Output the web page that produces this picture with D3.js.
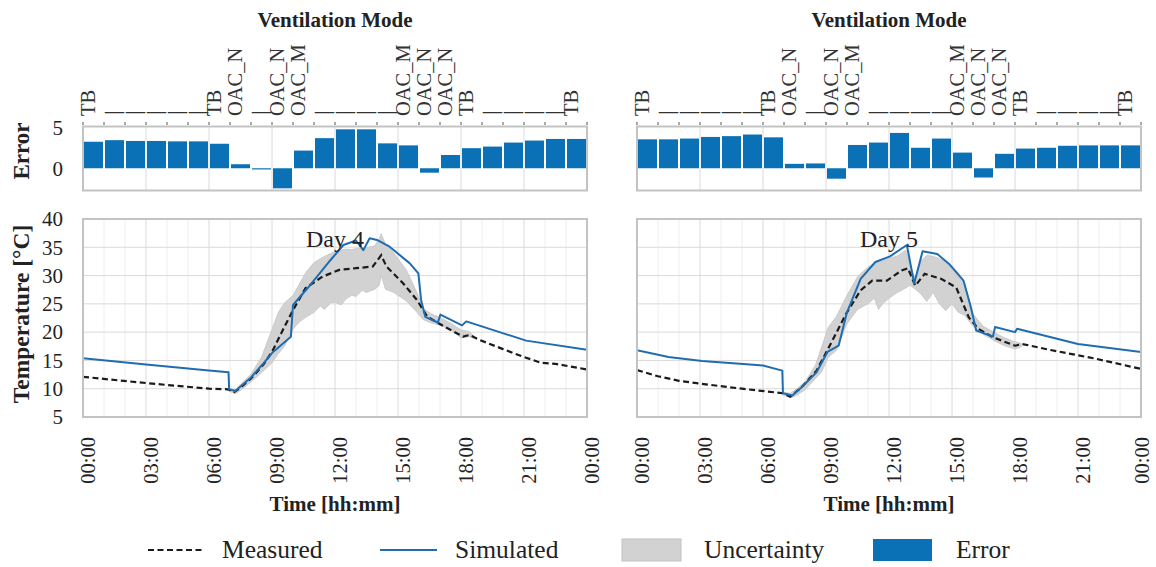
<!DOCTYPE html>
<html>
<head>
<meta charset="utf-8">
<script src="https://cdn.jsdelivr.net/npm/d3@7"></script>
<style>
  html, body { margin: 0; padding: 0; background: #fff; }
  svg { display: block; font-family: "Liberation Serif", "Times New Roman", serif; }
</style>
</head>
<body>
<svg id="chart" width="1156" height="567"></svg>
<script>
// ---------- data ----------
const hourTicks = [0, 3, 6, 9, 12, 15, 18, 21, 24];
const hourTickLabels = ["00:00", "03:00", "06:00", "09:00", "12:00", "15:00", "18:00", "21:00", "00:00"];
const tempTicks = [5, 10, 15, 20, 25, 30, 35, 40];
const errorTicks = [0, 5];
const dayLabels = ["Day 4", "Day 5"];

// ventilation mode per hour (blank = unchanged)
const modes4 = ["TB", "", "", "", "", "", "TB", "OAC_N", "", "OAC_N", "OAC_M", "", "", "", "", "OAC_M", "OAC_N", "OAC_N", "TB", "", "", "", "", "TB"];
const modes5 = ["TB", "", "", "", "", "", "TB", "OAC_N", "", "OAC_N", "OAC_M", "", "", "", "", "OAC_M", "OAC_N", "OAC_N", "TB", "", "", "", "", "TB"];

// hourly error (simulated - measured)
const error4 = [3.3, 3.5, 3.4, 3.4, 3.35, 3.35, 3.05, 0.5, -0.12, -2.5, 2.2, 3.75, 4.85, 4.85, 3.1, 2.85, -0.55, 1.65, 2.5, 2.7, 3.2, 3.45, 3.65, 3.65];
const error5 = [3.6, 3.6, 3.7, 3.9, 4.0, 4.2, 3.85, 0.55, 0.6, -1.3, 2.9, 3.2, 4.4, 2.55, 3.7, 1.95, -1.15, 1.8, 2.45, 2.55, 2.8, 2.85, 2.85, 2.85];

// Day 4 temperatures [hour, °C]
const simHours4 = [0, 3, 6, 6.93, 6.96, 7.25, 8.0, 8.6, 9.05, 9.9, 10.0, 10.7, 11.8, 12.4, 13.0, 13.35, 13.65, 14.0, 14.6, 15.55, 15.97, 16.1, 16.3, 16.9, 17.02, 18.05, 18.25, 21.1, 24];
const simTemp4  = [15.4, 14.3, 13.2, 12.9, 9.9, 9.6, 12.0, 14.5, 16.5, 19.2, 24.8, 27.8, 32.8, 35.4, 36.2, 34.5, 36.6, 36.3, 35.1, 32.2, 30.4, 25.7, 22.7, 21.7, 23.1, 21.2, 21.9, 18.5, 16.9];
const measHours4 = [0, 3, 6, 6.9, 7.2, 7.5, 8.0, 8.6, 9.0, 9.6, 10.0, 10.6, 11.4, 12.2, 13.0, 13.8, 14.2, 14.45, 15.25, 15.9, 16.4, 17.2, 18.1, 18.4, 18.9, 20.0, 21.0, 21.8, 22.5, 24];
const measTemp4  = [12.1, 11.0, 10.0, 9.9, 9.4, 10.2, 11.8, 14.3, 16.5, 21.0, 23.9, 27.8, 29.8, 31.0, 31.3, 31.6, 33.6, 31.6, 28.6, 25.7, 22.7, 21.0, 19.2, 19.5, 18.6, 17.0, 15.6, 14.6, 14.4, 13.4];
const bandHours4 = [6.8, 7.0, 7.25, 7.5, 8.0, 8.5, 9.0, 9.3, 9.6, 10.0, 10.3, 10.6, 11.0, 11.3, 11.5, 11.8, 12.0, 12.3, 12.5, 12.8, 13.0, 13.3, 13.5, 13.9, 14.1, 14.2, 14.4, 14.8, 15.4, 15.9, 16.2, 16.6, 17.0, 17.5, 18.0, 18.4, 18.6];
const bandLow4   = [9.9, 9.5, 9.1, 9.7, 11.2, 12.8, 14.6, 16.2, 17.5, 20.5, 21.8, 22.6, 23.5, 24.6, 24.0, 25.2, 25.3, 24.8, 25.8, 26.5, 26.3, 27.4, 27.0, 27.6, 28.2, 30.0, 27.6, 27.0, 25.5, 23.5, 22.2, 21.6, 21.2, 20.4, 19.0, 19.2, 18.9];
const bandHigh4  = [10.1, 9.9, 9.8, 10.8, 12.6, 15.6, 20.5, 23.5, 25.2, 26.5, 28.5, 30.5, 32.3, 33.0, 33.4, 33.9, 34.2, 34.5, 34.7, 34.6, 34.8, 34.9, 34.9, 35.3, 36.5, 37.4, 35.6, 34.0, 31.0, 27.0, 24.2, 23.2, 22.6, 21.6, 20.4, 20.1, 19.3];

// Day 5 temperatures [hour, °C]
const simHours5 = [0, 1.5, 3.1, 4.9, 6.0, 6.92, 6.95, 7.4, 7.85, 8.55, 9.07, 9.6, 10.0, 10.65, 11.35, 12.05, 12.85, 13.2, 13.6, 14.3, 14.85, 15.55, 15.9, 16.15, 16.95, 17.05, 18.0, 18.1, 21.0, 24];
const simTemp5  = [16.8, 15.6, 14.9, 14.4, 14.1, 13.2, 9.2, 8.8, 10.3, 12.9, 16.5, 17.6, 23.5, 29.4, 32.4, 33.4, 35.4, 28.6, 34.3, 33.8, 32.1, 29.1, 24.4, 20.3, 19.2, 20.9, 20.0, 20.6, 17.9, 16.5];
const measHours5 = [0, 1.0, 2.0, 3.0, 5.0, 6.95, 7.3, 7.85, 8.55, 9.15, 9.95, 10.65, 11.2, 11.9, 12.6, 12.9, 13.25, 13.7, 14.5, 15.2, 15.8, 16.25, 16.95, 18.0, 18.35, 19.75, 21.85, 24];
const measTemp5  = [13.3, 12.2, 11.4, 10.9, 10.0, 9.2, 8.6, 10.3, 13.2, 17.4, 23.2, 27.4, 29.1, 29.1, 30.9, 31.3, 28.2, 30.3, 29.4, 27.9, 22.6, 20.6, 19.1, 17.6, 17.9, 16.8, 15.3, 13.5];
const bandHours5 = [6.9, 7.3, 7.6, 8.0, 8.5, 8.8, 9.1, 9.5, 10.0, 10.5, 11.0, 11.3, 11.5, 11.7, 12.0, 12.4, 12.8, 13.0, 13.25, 13.5, 13.8, 14.1, 14.4, 14.7, 15.0, 15.3, 15.6, 16.0, 16.5, 17.0, 17.5, 18.0, 18.3];
const bandLow5   = [9.0, 8.4, 8.8, 9.8, 11.8, 13.0, 15.5, 16.8, 21.5, 24.0, 25.0, 26.0, 24.0, 25.0, 26.0, 27.0, 27.8, 28.3, 27.6, 26.8, 25.4, 27.0, 25.0, 23.8, 25.0, 23.5, 23.0, 21.0, 19.6, 18.5, 17.6, 17.0, 17.4];
const bandHigh5  = [9.4, 9.2, 10.0, 11.2, 14.2, 17.5, 20.8, 22.8, 26.5, 29.8, 31.5, 32.2, 32.4, 32.6, 33.0, 33.5, 34.5, 31.8, 29.5, 32.5, 33.6, 33.4, 33.0, 32.4, 31.6, 30.5, 28.5, 23.2, 21.0, 20.0, 19.0, 18.3, 18.0];

const legendLabels = ["Measured", "Simulated", "Uncertainty", "Error"];

// ---------- styling ----------
const C = {
  blue: "#0a71b6",
  simLine: "#1f6db0",
  band: "#d2d2d2",
  bandEdge: "#c2c2c2",
  frame: "#c3c3c3",
  gridMajor: "#dadada",
  gridMinor: "#eeeeee",
  text: "#222"
};

const svg = d3.select("#chart");
const zip = (a, b) => a.map((v, i) => [v, b[i]]);

const yErr = d3.scaleLinear().domain([-2.77, 5.2]).range([190.5, 126.5]);
const yTemp = d3.scaleLinear().domain([5, 40]).range([417, 219]);

const days = [
  { left: 83, right: 587, modes: modes4, error: error4, label: dayLabels[0],
    sim: zip(simHours4, simTemp4), meas: zip(measHours4, measTemp4),
    band: bandHours4.map((h, i) => [h, bandLow4[i], bandHigh4[i]]), yLabels: true },
  { left: 637, right: 1141, modes: modes5, error: error5, label: dayLabels[1],
    sim: zip(simHours5, simTemp5), meas: zip(measHours5, measTemp5),
    band: bandHours5.map((h, i) => [h, bandLow5[i], bandHigh5[i]]), yLabels: false }
];

days.forEach((d, di) => {
  const x = d3.scaleLinear().domain([0, 24]).range([d.left, d.right]);
  const g = svg.append("g");
  const cx = (d.left + d.right) / 2;

  // ----- error panel -----
  const [eBot, eTop] = yErr.range();
  g.append("g").selectAll("line").data(hourTicks).join("line")
    .attr("x1", h => x(h)).attr("x2", h => x(h))
    .attr("y1", eTop).attr("y2", eBot)
    .attr("stroke", C.gridMajor).attr("stroke-width", 1);

  g.append("g").selectAll("rect").data(d.error).join("rect")
    .attr("x", (v, i) => x(i) + 1)
    .attr("width", (v, i) => x(i + 1) - x(i) - 2)
    .attr("y", v => yErr(Math.max(0, v)))
    .attr("height", v => Math.max(1.2, Math.abs(yErr(v) - yErr(0))))
    .attr("fill", C.blue);

  g.append("rect").attr("x", d.left).attr("y", eTop)
    .attr("width", d.right - d.left).attr("height", eBot - eTop)
    .attr("fill", "none").attr("stroke", C.frame).attr("stroke-width", 2);

  // hourly ticks above the error panel
  g.append("g").selectAll("line").data(d3.range(0, 25)).join("line")
    .attr("x1", h => x(h)).attr("x2", h => x(h))
    .attr("y1", eTop - 1.5).attr("y2", eTop - 4.5)
    .attr("stroke", "#555").attr("stroke-width", 1);

  // ventilation mode labels
  const modeG = g.append("g").attr("fill", "#333").attr("font-size", 20.5);
  d.modes.forEach((m, i) => {
    if (m) {
      modeG.append("text")
        .attr("transform", `translate(${x(i) + 5},116) rotate(-90)`)
        .attr("dy", "0.35em")
        .text(m);
    } else {
      modeG.append("text")
        .attr("x", x(i) + 1).attr("y", 110)
        .attr("textLength", x(i + 1) - x(i) - 2)
        .attr("lengthAdjust", "spacingAndGlyphs")
        .text("_");
    }
  });

  g.append("text").attr("x", cx).attr("y", 27)
    .attr("text-anchor", "middle").attr("font-weight", "bold")
    .attr("font-size", 21).attr("fill", C.text)
    .text("Ventilation Mode");

  // ----- temperature panel -----
  const [tBot, tTop] = yTemp.range();
  g.append("g").selectAll("line").data(d3.range(0, 25).filter(h => h % 3 !== 0)).join("line")
    .attr("x1", h => x(h)).attr("x2", h => x(h))
    .attr("y1", tTop).attr("y2", tBot)
    .attr("stroke", C.gridMinor).attr("stroke-width", 1);
  g.append("g").selectAll("line").data(hourTicks).join("line")
    .attr("x1", h => x(h)).attr("x2", h => x(h))
    .attr("y1", tTop).attr("y2", tBot)
    .attr("stroke", C.gridMajor).attr("stroke-width", 1);
  g.append("g").selectAll("line").data(tempTicks).join("line")
    .attr("x1", d.left).attr("x2", d.right)
    .attr("y1", t => yTemp(t)).attr("y2", t => yTemp(t))
    .attr("stroke", C.gridMajor).attr("stroke-width", 1);

  const clipId = "clip" + di;
  svg.append("clipPath").attr("id", clipId).append("rect")
    .attr("x", d.left).attr("y", tTop).attr("width", d.right - d.left).attr("height", tBot - tTop);
  const plot = g.append("g").attr("clip-path", `url(#${clipId})`);

  plot.append("path").datum(d.band)
    .attr("d", d3.area().x(p => x(p[0])).y0(p => yTemp(p[1])).y1(p => yTemp(p[2])))
    .attr("fill", C.band).attr("stroke", C.bandEdge).attr("stroke-width", 0.7);

  plot.append("path").datum(d.meas)
    .attr("d", d3.line().x(p => x(p[0])).y(p => yTemp(p[1])))
    .attr("fill", "none").attr("stroke", "#1b1b1b").attr("stroke-width", 2.2)
    .attr("stroke-dasharray", "6,3.5");

  plot.append("path").datum(d.sim)
    .attr("d", d3.line().x(p => x(p[0])).y(p => yTemp(p[1])))
    .attr("fill", "none").attr("stroke", C.simLine).attr("stroke-width", 2)
    .attr("stroke-linejoin", "round");

  g.append("rect").attr("x", d.left).attr("y", tTop)
    .attr("width", d.right - d.left).attr("height", tBot - tTop)
    .attr("fill", "none").attr("stroke", C.frame).attr("stroke-width", 2);

  g.append("text").attr("x", cx).attr("y", 247)
    .attr("text-anchor", "middle").attr("font-size", 24).attr("fill", C.text)
    .text(d.label);

  // time tick labels (kept inside the page on the far right)
  g.append("g").attr("font-size", 20.5).attr("fill", C.text)
    .selectAll("text").data(hourTicks).join("text")
    .attr("transform", h => `translate(${Math.min(x(h) + 6, 1143)},437) rotate(-90)`)
    .attr("text-anchor", "end").attr("dy", "0.3em")
    .text((h, i) => hourTickLabels[i]);

  g.append("text").attr("x", cx).attr("y", 511)
    .attr("text-anchor", "middle").attr("font-weight", "bold")
    .attr("font-size", 21).attr("fill", C.text)
    .text("Time [hh:mm]");

  if (d.yLabels) {
    g.append("g").attr("font-size", 21).attr("fill", C.text)
      .selectAll("text").data(tempTicks).join("text")
      .attr("x", 63).attr("y", t => yTemp(t)).attr("dy", "0.35em")
      .attr("text-anchor", "end").text(t => t);
    g.append("g").attr("font-size", 21).attr("fill", C.text)
      .selectAll("text").data(errorTicks).join("text")
      .attr("x", 63).attr("y", t => yErr(t)).attr("dy", "0.35em")
      .attr("text-anchor", "end").text(t => t);
    g.append("text").attr("transform", `translate(29,${(tTop + tBot) / 2 - 4}) rotate(-90)`)
      .attr("text-anchor", "middle").attr("font-weight", "bold")
      .attr("font-size", 23.5).attr("fill", C.text).text("Temperature [°C]");
    g.append("text").attr("transform", `translate(29,151) rotate(-90)`)
      .attr("text-anchor", "middle").attr("font-weight", "bold")
      .attr("font-size", 23).attr("fill", C.text).text("Error");
  }
});

// ---------- legend ----------
const lg = svg.append("g").attr("font-size", 25.5).attr("fill", C.text);
const ly = 550;
lg.append("line").attr("x1", 148).attr("x2", 205).attr("y1", ly).attr("y2", ly)
  .attr("stroke", "#1b1b1b").attr("stroke-width", 2.2).attr("stroke-dasharray", "6,3.5");
lg.append("text").attr("x", 222).attr("y", ly).attr("dy", "0.33em").text(legendLabels[0]);
lg.append("line").attr("x1", 380).attr("x2", 437).attr("y1", ly).attr("y2", ly)
  .attr("stroke", C.simLine).attr("stroke-width", 2.2);
lg.append("text").attr("x", 455).attr("y", ly).attr("dy", "0.33em").text(legendLabels[1]);
lg.append("rect").attr("x", 622).attr("y", ly - 11).attr("width", 59).attr("height", 22)
  .attr("fill", C.band).attr("stroke", C.bandEdge).attr("stroke-width", 1);
lg.append("text").attr("x", 704).attr("y", ly).attr("dy", "0.33em").text(legendLabels[2]);
lg.append("rect").attr("x", 873).attr("y", ly - 11).attr("width", 59).attr("height", 22)
  .attr("fill", C.blue);
lg.append("text").attr("x", 956).attr("y", ly).attr("dy", "0.33em").text(legendLabels[3]);
</script>
</body>
</html>
